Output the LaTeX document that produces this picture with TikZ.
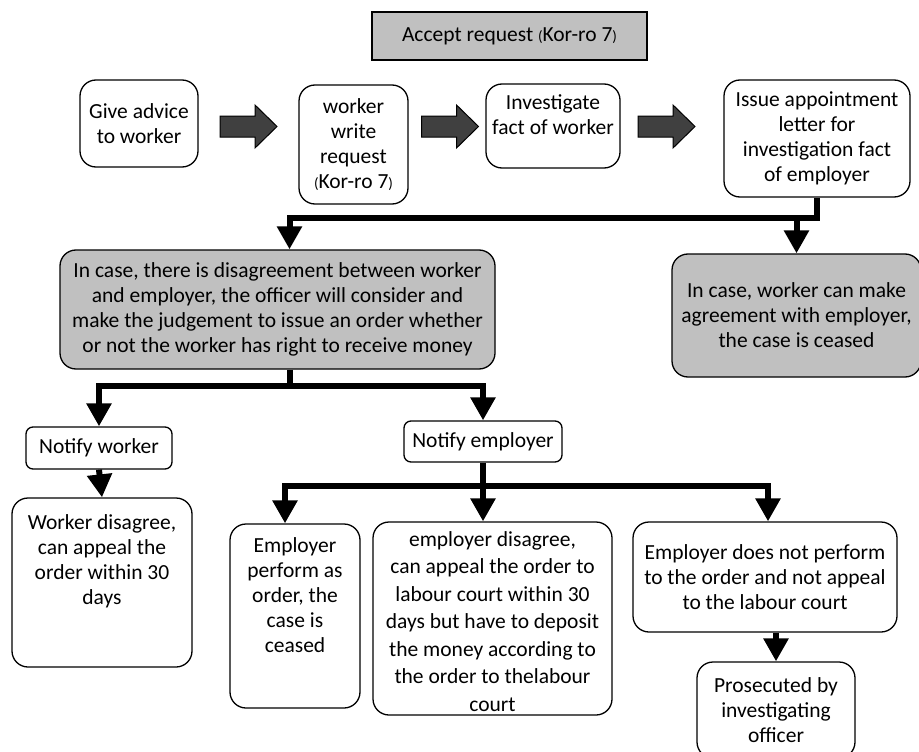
\documentclass[tikz,border=0pt]{standalone}
\usepackage{fontspec}
\setmainfont{Carlito}
\usepackage{xcolor}
\usetikzlibrary{positioning,arrows.meta,calc}

\definecolor{boxgray}{HTML}{C0C0C0}
\definecolor{blockgray}{HTML}{404040}
% small parentheses round the form number
\newcommand{\kopen}{{\fontsize{15pt}{15pt}\selectfont(}}
\newcommand{\kclose}{{\fontsize{15pt}{15pt}\selectfont)}}
% text kept at the top / bottom of a tall box
\newcommand{\toptext}[3]{\parbox[c][#1][t]{#2}{\centering #3}}
\newcommand{\bottext}[3]{\parbox[c][#1][b]{#2}{\centering #3}}

\begin{document}
\begin{tikzpicture}[x=1pt, y=-1pt,
    every node/.style={font=\fontsize{21.5pt}{25pt}\selectfont},
    stepbox/.style={draw, line width=1.3pt, rounded corners=16pt, align=center, inner sep=0pt},
    smallbox/.style={stepbox, rounded corners=7pt},
    graybox/.style={stepbox, fill=boxgray},
    fatarrow/.pic={
        \draw[fill=blockgray, line width=1pt] (-28.5,-10.5) -- (6.5,-10.5) -- (6.5,-21.5)
            -- (28.5,0) -- (6.5,21.5) -- (6.5,10.5) -- (-28.5,10.5) -- cycle;},
    flow/.style={line width=6pt, -{Triangle[width=24pt,length=23pt]}}]
    \useasboundingbox (0,0) rectangle (919,752);

    % top row
    \node[draw, line width=1.5pt, fill=boxgray, minimum width=275pt, minimum height=48pt]
        (accept) at (509.5,36) {Accept request \kopen Kor-ro 7\kclose\hspace{22pt}};
    \node[stepbox, minimum width=118pt, minimum height=87pt] (give) at (139,123.5)
        {Give advice\\to worker};
    \node[stepbox, minimum width=109pt, minimum height=119pt] (write) at (353.5,144.5)
        {worker\\write\\request\\\kopen Kor-ro 7\kclose};
    \node[stepbox, minimum width=134pt, minimum height=84pt] (inv) at (553,126)
        {\toptext{62pt}{130pt}{Investigate\\fact of worker}};
    \node[stepbox, minimum width=186pt, minimum height=117pt] (iss) at (817,138.5)
        {Issue appointment\\letter for\\investigation fact\\of employer};
    \pic (a1) at (248.5,126.5) {fatarrow};
    \pic (a2) at (450,126.5) {fatarrow};
    \pic (a3) at (666.5,126.5) {fatarrow};

    % decision row
    \node[graybox, minimum width=435pt, minimum height=119pt] (judge) at (277.5,309.5)
        {In case, there is disagreement between worker\\and employer, the officer will consider and\\make the judgement to issue an order whether\\or not the worker has right to receive money};
    \node[graybox, minimum width=249pt, minimum height=123pt] (agree) at (796.5,315.5)
        {In case, worker can make\\agreement with employer,\\the case is ceased};
    \coordinate (f1) at ($(iss.south)+(0,20)$);
    \draw[flow] (iss.south) -- (f1) -| ([xshift=12pt]judge.north);
    \draw[flow] (f1 -| agree.north) -- (agree.north);

    % notify row
    \node[smallbox, minimum width=146pt, minimum height=42pt] (nw) at (99,448) {Notify worker};
    \node[smallbox, minimum width=158pt, minimum height=41pt] (ne) at (483,441.5) {Notify employer};
    \coordinate (f2) at ($([xshift=12pt]judge.south)+(0,16)$);
    \draw[flow] ([xshift=12pt]judge.south) -- (f2) -| (nw.north);
    \draw[flow] (f2) -| (ne.north);

    % outcomes
    \node[stepbox, minimum width=180pt, minimum height=169pt] (wd) at (102,582.5)
        {\toptext{136pt}{176pt}{Worker disagree,\\can appeal the\\order within 30\\days}};
    \draw[flow] (nw.south) -- (wd.north);
    \node[stepbox, minimum width=130pt, minimum height=184pt] (ep) at (295,616)
        {\toptext{156pt}{126pt}{Employer\\perform as\\order, the\\case is\\ceased}};
    \node[stepbox, minimum width=239pt, minimum height=193pt, font=\fontsize{21.5pt}{27.5pt}\selectfont]
        (ed) at (492.5,618.5)
        {\bottext{186pt}{235pt}{employer disagree,\\can appeal the order to\\labour court within 30\\days but have to deposit\\the money according to\\the order to thelabour\\court}};
    \node[stepbox, minimum width=264pt, minimum height=110pt] (en) at (765,577)
        {Employer does not perform\\to the order and not appeal\\to the labour court};
    \coordinate (f3) at ($(ne.south)+(0,23)$);
    \draw[flow] (ne.south) -- (f3) -| ([xshift=-10pt]ep.north);
    \draw[flow] (f3) -- (f3 |- ed.north);
    \draw[flow] (f3) -| ([xshift=3pt]en.north);

    \node[stepbox, minimum width=158pt, minimum height=96pt] (pr) at (776,710)
        {Prosecuted by\\investigating\\officer};
    \draw[flow] (en.south -| pr.north) -- (pr.north);
\end{tikzpicture}
\end{document}
